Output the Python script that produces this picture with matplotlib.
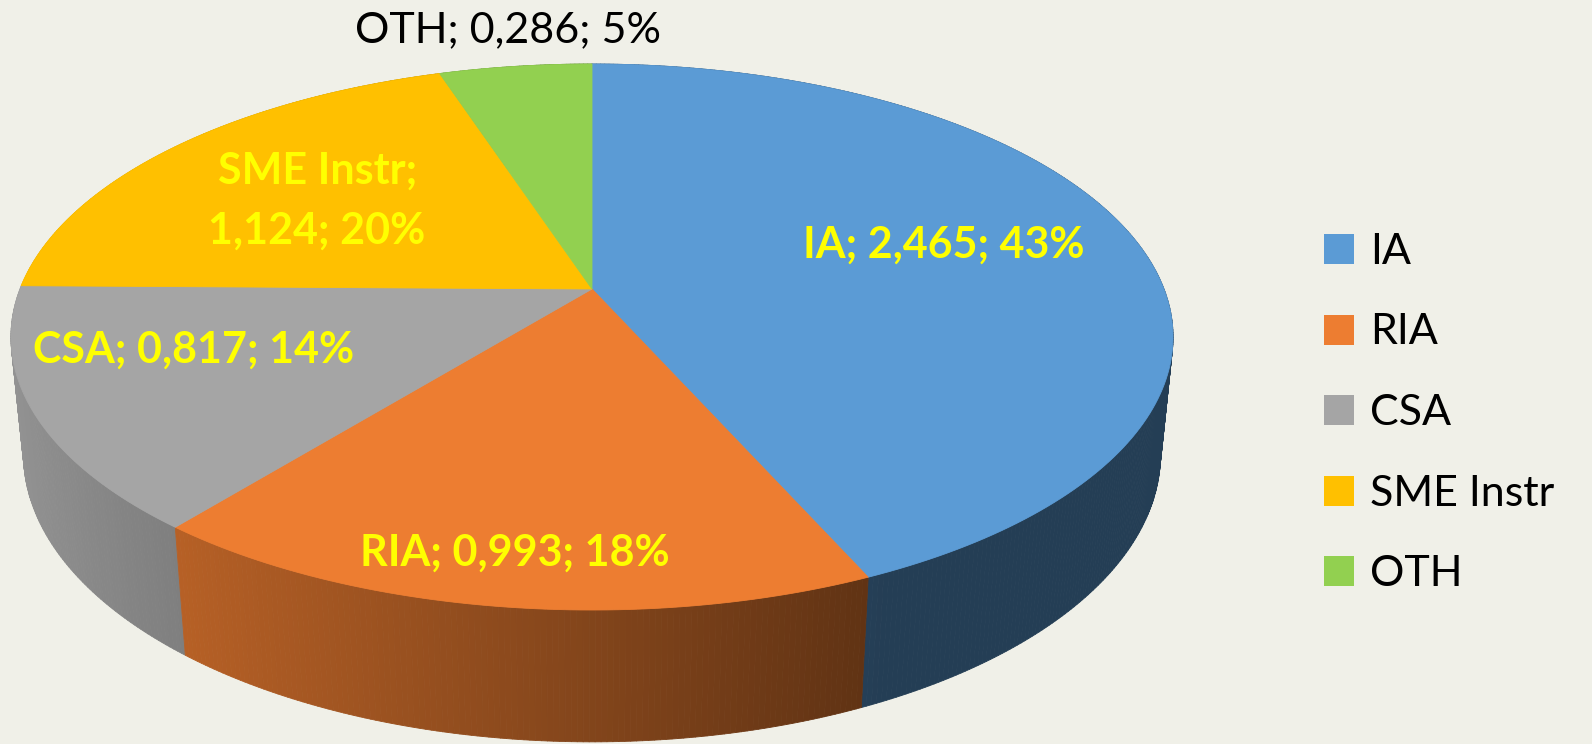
import numpy as np
import matplotlib.pyplot as plt
from matplotlib.collections import PolyCollection
from matplotlib.patches import Polygon, Rectangle
from matplotlib.colors import to_rgb

plt.rcParams['font.family'] = ['Lato', 'DejaVu Sans']

# budget split (values in the units shown on the labels)
categories = ['IA', 'RIA', 'CSA', 'SME Instr', 'OTH']
values = [2.465, 0.993, 0.817, 1.124, 0.286]
percents = [43, 18, 14, 20, 5]
colors = ['#5B9BD5', '#ED7D31', '#A5A5A5', '#FFC000', '#92D050']

# label anchors (pixels) and styling per slice
label_pos = [[(944, 245)], [(515, 553)], [(194, 350)],
             [(318, 171), (317, 231)], [(508, 30)]]
label_color = ['#FFFF00', '#FFFF00', '#FFFF00', '#FFFF00', '#000000']
label_bold = [True, True, True, True, False]

BG = '#F0F0E8'

# perspective camera for the 3d pie
CX, CY = 592, 289
ELEV = np.radians(27.55)
D0 = 5.042
FOC = 2884
THICK = 0.2334


def project(x, y, z):
    c, s = np.cos(ELEV), np.sin(ELEV)
    w = D0 + y * c - z * s
    return CX + FOC * x / w, CY - FOC * (y * s + z * c) / w


def shade(color, t):
    # light comes from the left, faces turned right get darker
    k = np.clip(0.55 - 0.35 * np.sin(t), 0.4, 1.0)
    return tuple(np.array(to_rgb(color)) * k)


fig = plt.figure(figsize=(15.92, 7.44), dpi=100)
fig.patch.set_facecolor(BG)
ax = fig.add_axes([0, 0, 1, 1])
ax.set_xlim(0, 1592)
ax.set_ylim(744, 0)
ax.axis('off')

total = sum(values)
bounds = np.concatenate([[0], np.cumsum(values)]) / total * 2 * np.pi

# outer wall, split in thin strips and painted back to front
strips = []
for i, col in enumerate(colors):
    a0, a1 = bounds[i], bounds[i + 1]
    n = max(2, int(np.degrees(a1 - a0) / 0.5))
    ts = np.linspace(a0, a1, n + 1)
    for t0, t1 in zip(ts[:-1], ts[1:]):
        quad = [project(np.sin(t0), np.cos(t0), 0),
                project(np.sin(t1), np.cos(t1), 0),
                project(np.sin(t1), np.cos(t1), -THICK),
                project(np.sin(t0), np.cos(t0), -THICK)]
        tm = (t0 + t1) / 2
        strips.append((np.cos(tm), quad, shade(col, tm)))
strips.sort(key=lambda s: -s[0])
wall = PolyCollection([s[1] for s in strips],
                      facecolors=[s[2] for s in strips],
                      edgecolors=[s[2] for s in strips], linewidths=0.6)
ax.add_collection(wall)

# top faces
for i, col in enumerate(colors):
    a0, a1 = bounds[i], bounds[i + 1]
    ts = np.linspace(a0, a1, max(3, int(np.degrees(a1 - a0))))
    pts = [project(0, 0, 0)] + [project(np.sin(t), np.cos(t), 0) for t in ts]
    ax.add_patch(Polygon(pts, closed=True, facecolor=col, edgecolor=col,
                         linewidth=0.6))

# data labels
for i, cat in enumerate(categories):
    val = f"{values[i]:.3f}".replace('.', ',')
    text = f"{cat}; {val}; {percents[i]}%"
    lines = [text]
    if len(label_pos[i]) == 2:
        lines = [f"{cat};", f"{val}; {percents[i]}%"]
    for line, (x, y) in zip(lines, label_pos[i]):
        ax.text(x, y, line, ha='center', va='center', fontsize=31,
                color=label_color[i],
                fontweight='bold' if label_bold[i] else 'normal')

# legend
for i, cat in enumerate(categories):
    yc = 249 + 80.5 * i
    ax.add_patch(Rectangle((1324, yc - 15), 30, 30, facecolor=colors[i],
                           edgecolor='none'))
    ax.text(1370, yc + 15, cat, ha='left', va='baseline', fontsize=31,
            color='black')

fig.savefig('out.png', dpi=100, facecolor=BG)
